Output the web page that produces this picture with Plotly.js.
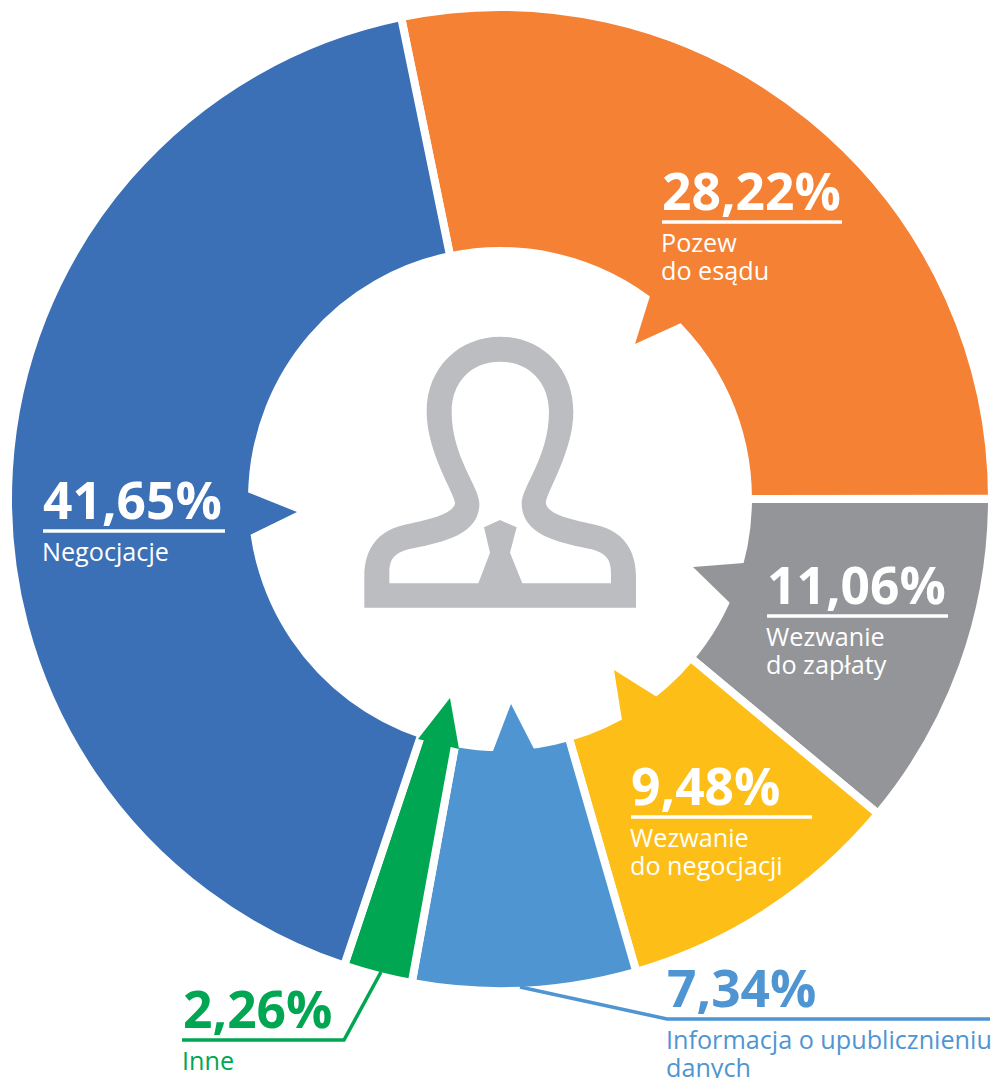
<!DOCTYPE html>
<html><head><meta charset="utf-8">
<script src="https://cdn.plot.ly/plotly-3.0.1.min.js"></script>
<style>html,body{margin:0;padding:0;background:#fff}#c{width:992px;height:1078px}</style></head>
<body><div id="c"></div>
<script>
const categories=["Pozew do e-sądu","Wezwanie do zapłaty","Wezwanie do negocjacji","Informacja o upublicznieniu danych","Inne","Negocjacje"];
const values=[28.22,11.06,9.48,7.34,2.26,41.65];
const colors=["#F58134","#939598","#FDBE18","#4F95D2","#00A651","#3B6FB6"];
const pctLabels=["28,22%","11,06%","9,48%","7,34%","2,26%","41,65%"];
const line1=["Pozew","Wezwanie","Wezwanie","Informacja o upublicznieniu","Inne","Negocjacje"];
const line2=["do esądu","do zapłaty","do negocjacji","danych","",""];
const W=992,H=1078;
const px=x=>x/W, py=y=>1-y/H;
// layout of each label block: left x, underline y, underline right x
const labelX=[662,767,631,667,183,43];
const ruleY=[222,616,817,1019,1040,531];
const ruleR=[842,948,812,990,344,225];
const textColor=["#fff","#fff","#fff","#4F95D2","#00A651","#fff"];
const pointers=[
 [[650,296],[635,344],[681,323],[700,300]],
 [[744,563],[693,567],[730,603],[770,590]],
 [[622,720],[614,670],[657,697],[670,740]],
 [[493,751],[511,704],[534,749],[515,770]],
 [[418,739],[450,698],[459,749]],
 [[247,492],[297,512],[250,535],[225,515]]
];
const leaders=[null,null,null,[[520,987],[667,1019],[990,1019]],[[381,972],[344,1040],[182,1040]],null];
const conv=s=>{let i=0;return s.replace(/-?\d+(\.\d+)?/g,m=>{const v=+m;const r=(i++%2===0)?px(350+v/3):py(320+v/3);return r.toFixed(6);});};
const iconPath=conv("M43,863 L43,770 C43,680 90,635 150,618 C220,600 300,590 315,552 C320,530 230,400 230,275 C230,140 330,50 450,50 C570,50 670,140 670,275 C670,400 580,530 588,552 C600,590 680,600 750,618 C810,635 858,680 858,770 L858,863 Z "+
 "M118,790 L118,760 C118,715 135,700 175,688 C260,670 390,650 388,550 C388,500 305,410 305,275 C305,190 360,125 450,125 C540,125 597,190 597,275 C597,410 515,500 515,550 C515,650 640,670 725,688 C765,700 783,715 783,760 L783,790 L517,790 L480,698 L500,622 L450,600 L402,622 L420,698 L385,790 Z");
const shapes=[];
pointers.forEach((p,i)=>{
  const d="M"+p.map(q=>px(q[0]).toFixed(6)+","+py(q[1]).toFixed(6)).join(" L")+" Z";
  shapes.push({type:"path",xref:"paper",yref:"paper",path:d,fillcolor:colors[i],line:{width:0},layer:"above"});
});
shapes.push({type:"path",xref:"paper",yref:"paper",path:iconPath,fillrule:"evenodd",fillcolor:"#BBBDC0",line:{width:0},layer:"above"});
categories.forEach((c,i)=>{
  const all=leaders[i]||[[labelX[i],ruleY[i]],[ruleR[i],ruleY[i]]];
  const d="M"+all.map(q=>px(q[0]).toFixed(6)+","+py(q[1]).toFixed(6)).join(" L");
  shapes.push({type:"path",xref:"paper",yref:"paper",path:d,line:{color:textColor[i],width:3.5},layer:"above"});
});
const font="'Open Sans', 'Noto Sans', sans-serif";
const annotations=[];
categories.forEach((c,i)=>{
  const base={xref:"paper",yref:"paper",xanchor:"left",yanchor:"middle",showarrow:false,borderpad:0,borderwidth:0};
  annotations.push({...base,x:px(labelX[i]),y:py(ruleY[i]-32),text:"<b>"+pctLabels[i]+"</b>",font:{family:font,size:51.5,color:textColor[i]}});
  annotations.push({...base,x:px(labelX[i]-1),y:py(ruleY[i]+20),text:line1[i],font:{family:font,size:25.2,color:textColor[i]}});
  if(line2[i])annotations.push({...base,x:px(labelX[i]-1),y:py(ruleY[i]+48),text:line2[i],font:{family:font,size:25.2,color:textColor[i]}});
});
Plotly.newPlot("c",[{
  type:"pie",labels:categories,values:values,sort:false,direction:"clockwise",rotation:-11.6,hole:0.504,
  marker:{colors:colors,line:{color:"#fff",width:8}},textinfo:"none",hoverinfo:"label+percent",
  domain:{x:[8/W,992/W],y:[1-991/H,1-7/H]}
}],{
  width:W,height:H,margin:{l:0,r:0,t:0,b:0},paper_bgcolor:"#fff",showlegend:false,shapes,annotations
},{displayModeBar:false,staticPlot:true});
</script></body></html>
